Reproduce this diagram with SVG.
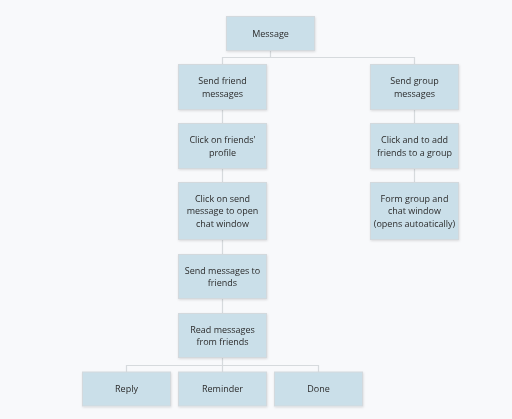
<svg xmlns="http://www.w3.org/2000/svg" width="512" height="419" viewBox="0 0 512 419">
<defs>
<style>
.box{fill:#cadfe9;stroke:#d3d9dd;stroke-width:1}
.t{font-family:"Open Sans","Noto Sans",sans-serif;font-size:9px;fill:#2b2b2b;text-anchor:middle}
.c{fill:none;stroke:#d6dadd;stroke-width:1.2}
</style>
<filter id="sh" x="-10%" y="-10%" width="130%" height="140%">
<feDropShadow dx="0.5" dy="1" stdDeviation="0.8" flood-color="#000" flood-opacity="0.12"/>
</filter>
</defs>
<rect width="512" height="419" fill="#f8f9fb"/>
<g id="connectors">
<path class="c" d="M270.5 51V57.5H222.5V64M270.5 57.5H414.5V64"/>
<path class="c" d="M222.5 110V123M222.5 168V182M222.5 239V254M222.5 298V313"/>
<path class="c" d="M414.5 110V123M414.5 168V182"/>
<path class="c" d="M222.5 358V365.5H126.5V372M222.5 365.5V372M222.5 365.5H318.5V372"/>
</g>
<g id="n-message" filter="url(#sh)"><rect class="box" x="226.5" y="16.5" width="88" height="34"/><text class="t" x="270.5" y="36.7">Message</text></g>
<g id="n-send-friend" filter="url(#sh)"><rect class="box" x="178.5" y="64.5" width="88" height="45"/><text class="t" x="222.5" y="84">Send friend</text><text class="t" x="222.5" y="96.6">messages</text></g>
<g id="n-send-group" filter="url(#sh)"><rect class="box" x="370.5" y="64.5" width="88" height="45"/><text class="t" x="414.5" y="84">Send group</text><text class="t" x="414.5" y="96.6">messages</text></g>
<g id="n-click-profile" filter="url(#sh)"><rect class="box" x="178.5" y="123.5" width="88" height="45"/><text class="t" x="222.5" y="143">Click on friends'</text><text class="t" x="222.5" y="155.6">profile</text></g>
<g id="n-click-add" filter="url(#sh)"><rect class="box" x="370.5" y="123.5" width="88" height="45"/><text class="t" x="414.5" y="143">Click and to add</text><text class="t" x="414.5" y="155.6">friends to a group</text></g>
<g id="n-click-send" filter="url(#sh)"><rect class="box" x="178.5" y="182.5" width="88" height="57"/><text class="t" x="222.5" y="202">Click on send</text><text class="t" x="222.5" y="214.4">message to open</text><text class="t" x="222.5" y="226.8">chat window</text></g>
<g id="n-form-group" filter="url(#sh)"><rect class="box" x="370.5" y="182.5" width="88" height="57"/><text class="t" x="414.5" y="202">Form group and</text><text class="t" x="414.5" y="214.4">chat window</text><text class="t" x="414.5" y="226.8">(opens autoatically)</text></g>
<g id="n-send-msgs" filter="url(#sh)"><rect class="box" x="178.5" y="254.5" width="88" height="44"/><text class="t" x="222.5" y="273.5">Send messages to</text><text class="t" x="222.5" y="286">friends</text></g>
<g id="n-read" filter="url(#sh)"><rect class="box" x="178.5" y="313.5" width="88" height="44"/><text class="t" x="222.5" y="332.5">Read messages</text><text class="t" x="222.5" y="345">from friends</text></g>
<g id="n-reply" filter="url(#sh)"><rect class="box" x="82.5" y="372" width="88" height="34"/><text class="t" x="126.5" y="392">Reply</text></g>
<g id="n-reminder" filter="url(#sh)"><rect class="box" x="178.5" y="372" width="88" height="34"/><text class="t" x="222.5" y="392">Reminder</text></g>
<g id="n-done" filter="url(#sh)"><rect class="box" x="274.5" y="372" width="88" height="34"/><text class="t" x="318.5" y="392">Done</text></g>
</svg>
